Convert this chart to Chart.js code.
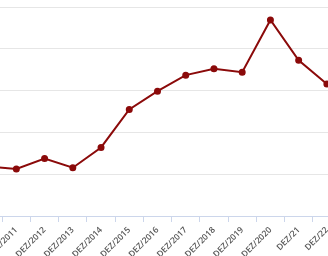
<!DOCTYPE html>
<html>
<head>
<meta charset="utf-8">
<script src="https://cdn.jsdelivr.net/npm/chart.js@4/dist/chart.umd.min.js"></script>
<style>
  html, body { margin: 0; padding: 0; background: #fff; overflow: hidden; }
  body { width: 328px; height: 256px; position: relative; }
  #myChart { position: absolute; left: -26px; top: 0; }
</style>
</head>
<body>
<canvas id="myChart" width="367" height="256"></canvas>
<script>
// categories and values (y scale labels are cropped out)
const labels = ['DEZ/2010', 'DEZ/2011', 'DEZ/2012', 'DEZ/2013', 'DEZ/2014', 'DEZ/2015', 'DEZ/2016',
    'DEZ/2017', 'DEZ/2018', 'DEZ/2019', 'DEZ/2020', 'DEZ/21', 'DEZ/22'];
const values = [23.7, 22.5, 27.5, 23.1, 32.8, 51.0, 59.7, 67.4, 70.4, 68.8, 93.8, 74.5, 63.2];
const yTicks = [0, 20, 40, 60, 80, 100];

document.addEventListener("DOMContentLoaded", function () {
    const ctx = document.getElementById('myChart');

    new Chart(ctx, {
        type: 'line',
        data: {
            labels: labels,
            datasets: [{
                data: values,
                borderColor: '#8b0a0a',
                backgroundColor: '#8b0a0a',
                borderWidth: 2,
                pointRadius: 2.5,
                pointHoverRadius: 2.5,
                tension: 0
            }]
        },
        options: {
            responsive: false,
            animation: false,
            layout: { autoPadding: false, padding: { top: 7, left: 0, right: 0, bottom: 0 } },
            plugins: { legend: { display: false }, tooltip: { enabled: false } },
            scales: {
                x: {
                    offset: true,
                    grid: {
                        offset: true,
                        drawOnChartArea: false,
                        drawTicks: true,
                        tickLength: 6,
                        tickColor: '#ccd6eb'
                    },
                    border: { color: '#ccd6eb' },
                    ticks: {
                        autoSkip: false,
                        minRotation: 45,
                        maxRotation: 45,
                        padding: 3,
                        color: '#555',
                        font: { family: 'Open Sans', size: 8.5, weight: '600' }
                    },
                    afterFit: function (scale) {
                        scale.height = 40;
                        scale.paddingLeft = 0;
                        scale.paddingRight = 0;
                    }
                },
                y: {
                    min: yTicks[0],
                    max: yTicks[yTicks.length - 1],
                    afterBuildTicks: function (scale) {
                        scale.ticks = yTicks.map(v => ({ value: v }));
                    },
                    grid: { color: '#e6e6e6', drawTicks: false },
                    border: { display: false },
                    ticks: { display: false },
                    afterFit: function (scale) {
                        scale.width = 0;
                    }
                }
            }
        }
    });
});
</script>
</body>
</html>
